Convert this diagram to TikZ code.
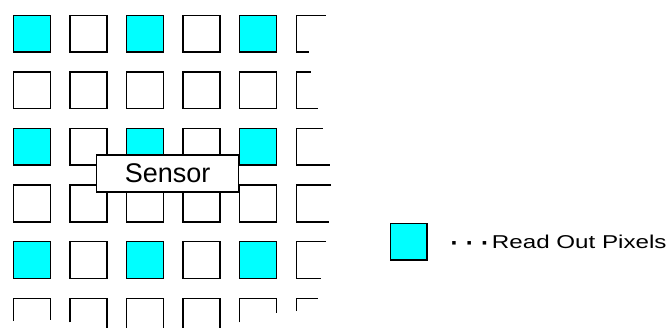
\documentclass[tikz,border=0pt]{standalone}
\usepackage{fontspec}
\setmainfont{Liberation Sans}
\newfontfamily\symfont{DejaVu Sans}
\definecolor{readcyan}{RGB}{0,255,255}
\begin{document}
\begin{tikzpicture}[x=1pt,y=-1pt,
  pix/.style={draw=black,line width=1.5pt,minimum width=36.8pt,minimum height=36.8pt,inner sep=0pt,fill=white},
  readpix/.style={pix,fill=readcyan},
  edge/.style={draw=black,line width=1.5pt,line cap=butt},
  sensorbox/.style={draw=black,line width=1.5pt,fill=white,minimum width=142pt,minimum height=37pt,inner sep=0pt,font=\fontsize{27}{30}\selectfont}]
\useasboundingbox (0,0) rectangle (670,327);
% full pixels
\foreach \c/\x in {1/32,2/88.5,3/145,4/201.5,5/258}{
  \foreach \r/\y in {1/33.7,2/90.2,3/146.8,4/203.4,5/260}{
    \pgfmathtruncatemacro{\isread}{(mod(\c,2)==1) && (mod(\r,2)==1)}
    \ifnum\isread=1
      \node[readpix] (p\r\c) at (\x,\y) {};
    \else
      \node[pix] (p\r\c) at (\x,\y) {};
    \fi
  }
}
% partial column 6
\draw[edge] (325.7,15.4) -- (296.4,15.4) -- (296.4,52.0) -- (309.3,52.0);
\draw[edge] (310.7,71.8) -- (296.4,71.8) -- (296.4,108.6) -- (317.7,108.6);
\draw[edge] (322.7,128.4) -- (296.4,128.4) -- (296.4,165.2) -- (330,165.2);
\draw[edge] (331,185.0) -- (296.4,185.0) -- (296.4,221.8) -- (329,221.8);
\draw[edge] (326,241.6) -- (296.4,241.6) -- (296.4,278.4) -- (320.7,278.4);
% partial bottom row
\draw[edge] (13.6,321) -- (13.6,298.4) -- (50.4,298.4) -- (50.4,320);
\draw[edge] (70.1,322.3) -- (70.1,298.4) -- (106.9,298.4) -- (106.9,328);
\draw[edge] (126.6,328) -- (126.6,298.4) -- (163.4,298.4) -- (163.4,328);
\draw[edge] (183.1,328) -- (183.1,298.4) -- (219.9,298.4) -- (219.9,328);
\draw[edge] (239.6,322.3) -- (239.6,298.4) -- (276.4,298.4) -- (276.4,313.3);
\draw[edge] (296.4,311) -- (296.4,298.4) -- (318.3,298.4);
% sensor label
\node[sensorbox] (sensor) at (167.7,173.3) {Sensor};
% legend
\node[readpix] (legend) at (408.8,241.7) {};
\node[anchor=base east,inner sep=0pt,font=\symfont\fontsize{4.6}{5}\selectfont] (dots) at (487,244.8) {■\hspace{11pt}■\hspace{11pt}■};
\node[anchor=base west,inner sep=0pt,font=\fontsize{18.6}{21}\selectfont] (legtext) at (491.7,248.3) {\scalebox{1.3}[1]{Read Out Pixels}};
\end{tikzpicture}
\end{document}
